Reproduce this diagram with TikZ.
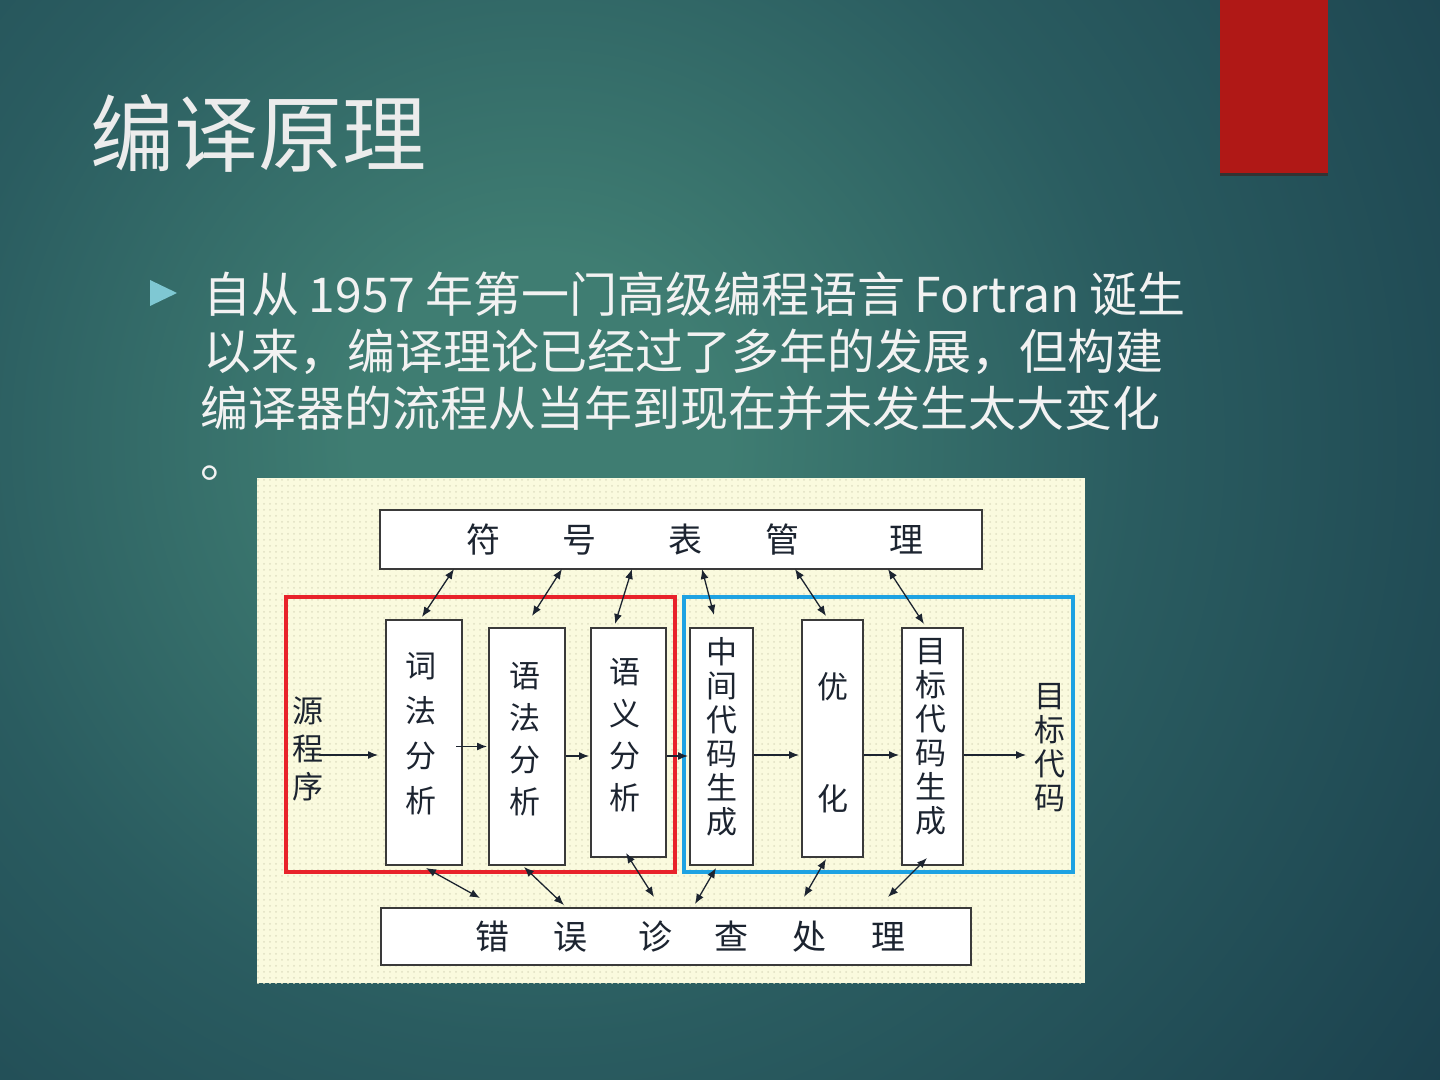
\documentclass[tikz,border=0pt]{standalone}
\usepackage{fontspec}
\setmainfont{Noto Sans CJK SC}
\newfontfamily\cjk{Noto Sans CJK SC}
\usetikzlibrary{calc,patterns,arrows.meta}
\definecolor{bgdark}{HTML}{163848}
\definecolor{bgmid}{HTML}{2A5C60}
\definecolor{bglight}{HTML}{3F7D72}
\definecolor{slidetxt}{HTML}{F2F2F2}
\definecolor{bulletc}{HTML}{7FC8D3}
\definecolor{redbar}{HTML}{B01816}
\definecolor{paper}{HTML}{FAFADE}
\definecolor{paperdot}{HTML}{E0E0C2}
\definecolor{ink}{HTML}{1C2430}
\definecolor{frame}{HTML}{3A3A3A}
\definecolor{redframe}{HTML}{E8222A}
\definecolor{blueframe}{HTML}{1EA2E2}
\pgfdeclareradialshading{slidebg}{\pgfpoint{0bp}{0bp}}{color(0bp)=(bglight); color(4bp)=(bglight); color(13bp)=(bgmid); color(28bp)=(bgdark); color(50bp)=(bgdark)}
\tikzset{
  stagebox/.style={draw=frame, line width=1pt, fill=white, inner sep=0pt},
  widebox/.style={draw=frame, line width=1pt, fill=white, inner sep=0pt, anchor=north west},
  vtext/.style={text=ink, align=center, inner sep=0pt, font=\cjk\fontsize{15}{21}\selectfont},
  htext/.style={text=ink, inner sep=0pt, font=\cjk\fontsize{17}{20}\selectfont},
  arr/.style={draw=ink, line width=0.65pt, -{Latex[length=5pt,width=4pt]}},
  dbl/.style={draw=ink, line width=0.65pt, {Latex[length=5pt,width=4pt]}-{Latex[length=5pt,width=4pt]}},
  slideline/.style={text=slidetxt, anchor=base west, inner sep=0pt, font=\cjk\fontsize{24}{28}\selectfont},
}
\begin{document}
\begin{tikzpicture}[x=0.5pt,y=-0.5pt]
\useasboundingbox (0,0) rectangle (1440,1080);
% background
\fill[bgdark] (0,0) rectangle (1440,1080);
\begin{scope}
\clip (0,0) rectangle (1440,1080);
\shade[shading=slidebg] (540,440) circle (1150);
\end{scope}
% red bar
\fill[black!80] (1220,0) rectangle (1328,176);
\fill[redbar] (1220,0) rectangle (1328,173);
% title
\node[anchor=west, text=slidetxt!95!gray, inner sep=0pt, font=\cjk\fontsize{42}{46}\selectfont] (title) at (90,133) {编译原理};
% bullet
\fill[bulletc] (150,280) -- (177,293) -- (150,306) -- cycle;
\node[slideline] (l1) at (203,313) {自从\hspace{0.2em}1957\hspace{0.2em}年第一门高级编程语言\hspace{0.2em}Fortran\hspace{0.2em}诞生};
\node[slideline] (l2) at (203,370) {以来，编译理论已经过了多年的发展，但构建};
\node[slideline] (l3) at (200,427) {编译器的流程从当年到现在并未发生太大变化};
\node[slideline] (l4) at (200,478) {。};
% diagram paper
\fill[paper] (257,478) rectangle (1085,983);
\fill[pattern=dots, pattern color=paperdot] (257,478) rectangle (1085,983);
% frames
\draw[redframe, line width=2pt] (286,597) rectangle (675,872);
\draw[blueframe, line width=2pt] (684,597) rectangle (1073,872);
% wide boxes
\node[widebox, minimum width=301pt, minimum height=29.5pt] (sym) at (379,509) {};
\node[widebox, minimum width=295pt, minimum height=28.5pt] (err) at (380,907) {};
\node[htext] (symlbl) at (695,540) {符\hspace{31.5pt}号\hspace{36pt}表\hspace{31.5pt}管\hspace{45pt}理};
\node[htext] (errlbl) at (690,937) {错\hspace{22pt}误\hspace{26pt}诊\hspace{21pt}查\hspace{22pt}处\hspace{22pt}理};
% stage boxes
\node[stagebox, minimum width=38pt, minimum height=122.5pt] (lex) at (424,742.5) {};
\node[stagebox, minimum width=38pt, minimum height=118.5pt] (syn) at (527,746.5) {};
\node[stagebox, minimum width=37.5pt, minimum height=114.5pt] (sem) at (628.5,742.5) {};
\node[stagebox, minimum width=31.5pt, minimum height=118.5pt] (mid) at (721.5,746.5) {};
\node[stagebox, minimum width=30.5pt, minimum height=118.5pt] (opt) at (832.5,738.5) {};
\node[stagebox, minimum width=30.5pt, minimum height=118.5pt] (tgt) at (932.5,746.5) {};
% texts
\node[vtext, font=\cjk\fontsize{15.5}{22.5}\selectfont] (lext) at (421,734) {词\\法\\分\\析};
\node[vtext, font=\cjk\fontsize{15.5}{21}\selectfont] (synt) at (525,739) {语\\法\\分\\析};
\node[vtext, font=\cjk\fontsize{15.5}{21}\selectfont] (semt) at (625,735) {语\\义\\分\\析};
\node[vtext, font=\cjk\fontsize{15.5}{17}\selectfont] (midt) at (722,737) {中\\间\\代\\码\\生\\成};
\node[vtext, font=\cjk\fontsize{15.5}{56}\selectfont] (optt) at (833,743) {优\\化};
\node[vtext, font=\cjk\fontsize{15.5}{17}\selectfont] (tgtt) at (931,737) {目\\标\\代\\码\\生\\成};
\node[vtext, font=\cjk\fontsize{15.5}{19}\selectfont] (src) at (308,749) {源\\程\\序};
\node[vtext, font=\cjk\fontsize{15.5}{17}\selectfont] (dst) at (1050,748) {目\\标\\代\\码};
% horizontal arrows
\draw[arr] ($(lex.west)+(-66,12.5)$) -- ($(lex.west)+(-7,12.5)$);
\draw[arr] ($(lex.east)+(-7,4)$) -- ($(syn.west)+(-1,0)$);
\draw[arr] ($(syn.east)+(0,9.5)$) -- ($(sem.west)+(-1,13.5)$);
\draw[arr] ($(sem.east)+(0,13.5)$) -- ($(mid.west)+(-1,9.5)$);
\draw[arr] ($(mid.east)+(0,8.5)$) -- ($(opt.west)+(-2,16.5)$);
\draw[arr] ($(opt.east)+(0,16.5)$) -- ($(tgt.west)+(-2,8.5)$);
\draw[arr] ($(tgt.east)+(0,8.5)$) -- ($(tgt.east)+(62,8.5)$);
% symbol table arrows
\draw[dbl] ($(sym.south west)+(75,-1)$) -- ($(lex.north west)+(37,-2)$);
\draw[dbl] ($(sym.south west)+(183,-1)$) -- ($(syn.north west)+(44,-11)$);
\draw[dbl] ($(sym.south west)+(253,-1)$) -- ($(sem.north west)+(25,-3)$);
\draw[dbl] ($(sym.south west)+(323,-1)$) -- ($(mid.north west)+(25,-12)$);
\draw[dbl] ($(sym.south west)+(416,-1)$) -- ($(opt.north west)+(25,-3)$);
\draw[dbl] ($(sym.south west)+(509,-1)$) -- ($(tgt.north west)+(23,-3)$);
% error arrows
\draw[dbl] ($(lex.south west)+(41,2)$) -- ($(err.north west)+(100,-9)$);
\draw[dbl] ($(syn.south west)+(36,1)$) -- ($(err.north west)+(184,-2)$);
\draw[dbl] ($(sem.south west)+(36,-5)$) -- ($(err.north west)+(274,-10)$);
\draw[dbl] ($(mid.south west)+(27,2)$) -- ($(err.north west)+(315,-3)$);
\draw[dbl] ($(opt.south west)+(25,1)$) -- ($(err.north west)+(424,-10)$);
\draw[dbl] ($(tgt.south west)+(26,-8)$) -- ($(err.north west)+(508,-10)$);
\end{tikzpicture}
\end{document}
